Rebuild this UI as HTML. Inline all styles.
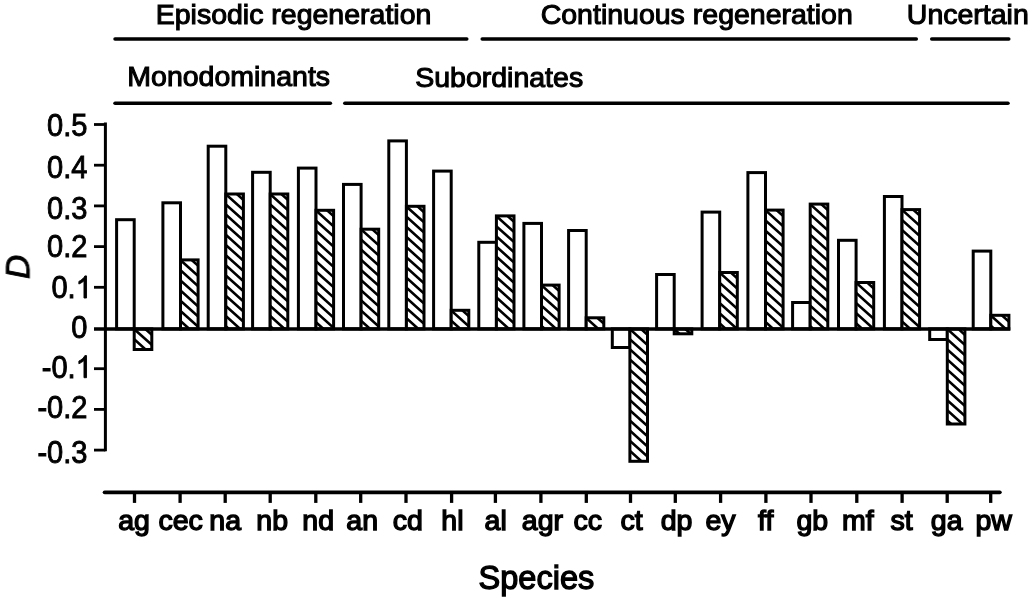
<!DOCTYPE html>
<html><head><meta charset="utf-8"><title>Chart</title>
<style>
html,body{margin:0;padding:0;background:#fff;}
svg{display:block}
.t{font-family:"Liberation Sans",sans-serif;font-size:28.5px;fill:#000;stroke:#000;stroke-width:1.1;}
</style></head><body>
<svg width="1033" height="602" viewBox="0 0 1033 602">
<rect width="1033" height="602" fill="#fff"/>
<g id="all" filter="url(#bl)">
<defs><filter id="bl" x="0" y="0" width="1033" height="602" filterUnits="userSpaceOnUse"><feGaussianBlur stdDeviation="0.5"/></filter><clipPath id="c0"><rect x="134.20" y="328.90" width="17.60" height="20.60"/></clipPath><clipPath id="c1"><rect x="180.50" y="259.90" width="17.60" height="69.00"/></clipPath><clipPath id="c2"><rect x="225.80" y="194.00" width="17.60" height="134.90"/></clipPath><clipPath id="c3"><rect x="270.20" y="194.00" width="17.60" height="134.90"/></clipPath><clipPath id="c4"><rect x="316.00" y="210.30" width="17.60" height="118.60"/></clipPath><clipPath id="c5"><rect x="361.10" y="229.20" width="17.60" height="99.70"/></clipPath><clipPath id="c6"><rect x="406.40" y="206.30" width="17.60" height="122.60"/></clipPath><clipPath id="c7"><rect x="451.20" y="310.30" width="17.60" height="18.60"/></clipPath><clipPath id="c8"><rect x="496.40" y="215.90" width="17.60" height="113.00"/></clipPath><clipPath id="c9"><rect x="541.50" y="285.10" width="17.60" height="43.80"/></clipPath><clipPath id="c10"><rect x="586.20" y="317.80" width="17.60" height="11.10"/></clipPath><clipPath id="c11"><rect x="629.90" y="328.90" width="17.60" height="132.40"/></clipPath><clipPath id="c12"><rect x="674.20" y="328.90" width="17.60" height="4.90"/></clipPath><clipPath id="c13"><rect x="719.70" y="272.50" width="17.60" height="56.40"/></clipPath><clipPath id="c14"><rect x="765.50" y="210.10" width="17.60" height="118.80"/></clipPath><clipPath id="c15"><rect x="810.20" y="204.10" width="17.60" height="124.80"/></clipPath><clipPath id="c16"><rect x="856.10" y="282.50" width="17.60" height="46.40"/></clipPath><clipPath id="c17"><rect x="902.00" y="209.60" width="17.60" height="119.30"/></clipPath><clipPath id="c18"><rect x="947.30" y="328.90" width="17.60" height="95.10"/></clipPath><clipPath id="c19"><rect x="990.80" y="315.30" width="18.10" height="13.60"/></clipPath></defs>
<rect x="116.60" y="219.70" width="17.60" height="109.20" fill="#fff" stroke="#000" stroke-width="3.0"/>
<rect x="134.20" y="328.90" width="17.60" height="20.60" fill="#fff"/>
<path d="M132.20 296.85L153.80 316.29M132.20 307.00L153.80 326.44M132.20 317.15L153.80 336.59M132.20 327.30L153.80 346.74M132.20 337.45L153.80 356.89M132.20 347.60L153.80 367.04" stroke="#000" stroke-width="2.6" fill="none" clip-path="url(#c0)"/>
<rect x="134.20" y="328.90" width="17.60" height="20.60" fill="none" stroke="#000" stroke-width="3.0"/>
<rect x="162.90" y="202.80" width="17.60" height="126.10" fill="#fff" stroke="#000" stroke-width="3.0"/>
<rect x="180.50" y="259.90" width="17.60" height="69.00" fill="#fff"/>
<path d="M178.50 227.85L200.10 247.29M178.50 238.00L200.10 257.44M178.50 248.15L200.10 267.59M178.50 258.30L200.10 277.74M178.50 268.45L200.10 287.89M178.50 278.60L200.10 298.04M178.50 288.75L200.10 308.19M178.50 298.90L200.10 318.34M178.50 309.05L200.10 328.49M178.50 319.20L200.10 338.64" stroke="#000" stroke-width="2.6" fill="none" clip-path="url(#c1)"/>
<rect x="180.50" y="259.90" width="17.60" height="69.00" fill="none" stroke="#000" stroke-width="3.0"/>
<rect x="208.20" y="146.20" width="17.60" height="182.70" fill="#fff" stroke="#000" stroke-width="3.0"/>
<rect x="225.80" y="194.00" width="17.60" height="134.90" fill="#fff"/>
<path d="M223.80 161.95L245.40 181.39M223.80 172.10L245.40 191.54M223.80 182.25L245.40 201.69M223.80 192.40L245.40 211.84M223.80 202.55L245.40 221.99M223.80 212.70L245.40 232.14M223.80 222.85L245.40 242.29M223.80 233.00L245.40 252.44M223.80 243.15L245.40 262.59M223.80 253.30L245.40 272.74M223.80 263.45L245.40 282.89M223.80 273.60L245.40 293.04M223.80 283.75L245.40 303.19M223.80 293.90L245.40 313.34M223.80 304.05L245.40 323.49M223.80 314.20L245.40 333.64M223.80 324.35L245.40 343.79" stroke="#000" stroke-width="2.6" fill="none" clip-path="url(#c2)"/>
<rect x="225.80" y="194.00" width="17.60" height="134.90" fill="none" stroke="#000" stroke-width="3.0"/>
<rect x="252.60" y="172.30" width="17.60" height="156.60" fill="#fff" stroke="#000" stroke-width="3.0"/>
<rect x="270.20" y="194.00" width="17.60" height="134.90" fill="#fff"/>
<path d="M268.20 161.95L289.80 181.39M268.20 172.10L289.80 191.54M268.20 182.25L289.80 201.69M268.20 192.40L289.80 211.84M268.20 202.55L289.80 221.99M268.20 212.70L289.80 232.14M268.20 222.85L289.80 242.29M268.20 233.00L289.80 252.44M268.20 243.15L289.80 262.59M268.20 253.30L289.80 272.74M268.20 263.45L289.80 282.89M268.20 273.60L289.80 293.04M268.20 283.75L289.80 303.19M268.20 293.90L289.80 313.34M268.20 304.05L289.80 323.49M268.20 314.20L289.80 333.64M268.20 324.35L289.80 343.79" stroke="#000" stroke-width="2.6" fill="none" clip-path="url(#c3)"/>
<rect x="270.20" y="194.00" width="17.60" height="134.90" fill="none" stroke="#000" stroke-width="3.0"/>
<rect x="298.40" y="168.10" width="17.60" height="160.80" fill="#fff" stroke="#000" stroke-width="3.0"/>
<rect x="316.00" y="210.30" width="17.60" height="118.60" fill="#fff"/>
<path d="M314.00 178.25L335.60 197.69M314.00 188.40L335.60 207.84M314.00 198.55L335.60 217.99M314.00 208.70L335.60 228.14M314.00 218.85L335.60 238.29M314.00 229.00L335.60 248.44M314.00 239.15L335.60 258.59M314.00 249.30L335.60 268.74M314.00 259.45L335.60 278.89M314.00 269.60L335.60 289.04M314.00 279.75L335.60 299.19M314.00 289.90L335.60 309.34M314.00 300.05L335.60 319.49M314.00 310.20L335.60 329.64M314.00 320.35L335.60 339.79" stroke="#000" stroke-width="2.6" fill="none" clip-path="url(#c4)"/>
<rect x="316.00" y="210.30" width="17.60" height="118.60" fill="none" stroke="#000" stroke-width="3.0"/>
<rect x="343.50" y="184.40" width="17.60" height="144.50" fill="#fff" stroke="#000" stroke-width="3.0"/>
<rect x="361.10" y="229.20" width="17.60" height="99.70" fill="#fff"/>
<path d="M359.10 197.15L380.70 216.59M359.10 207.30L380.70 226.74M359.10 217.45L380.70 236.89M359.10 227.60L380.70 247.04M359.10 237.75L380.70 257.19M359.10 247.90L380.70 267.34M359.10 258.05L380.70 277.49M359.10 268.20L380.70 287.64M359.10 278.35L380.70 297.79M359.10 288.50L380.70 307.94M359.10 298.65L380.70 318.09M359.10 308.80L380.70 328.24M359.10 318.95L380.70 338.39M359.10 329.10L380.70 348.54" stroke="#000" stroke-width="2.6" fill="none" clip-path="url(#c5)"/>
<rect x="361.10" y="229.20" width="17.60" height="99.70" fill="none" stroke="#000" stroke-width="3.0"/>
<rect x="388.80" y="140.90" width="17.60" height="188.00" fill="#fff" stroke="#000" stroke-width="3.0"/>
<rect x="406.40" y="206.30" width="17.60" height="122.60" fill="#fff"/>
<path d="M404.40 174.25L426.00 193.69M404.40 184.40L426.00 203.84M404.40 194.55L426.00 213.99M404.40 204.70L426.00 224.14M404.40 214.85L426.00 234.29M404.40 225.00L426.00 244.44M404.40 235.15L426.00 254.59M404.40 245.30L426.00 264.74M404.40 255.45L426.00 274.89M404.40 265.60L426.00 285.04M404.40 275.75L426.00 295.19M404.40 285.90L426.00 305.34M404.40 296.05L426.00 315.49M404.40 306.20L426.00 325.64M404.40 316.35L426.00 335.79M404.40 326.50L426.00 345.94" stroke="#000" stroke-width="2.6" fill="none" clip-path="url(#c6)"/>
<rect x="406.40" y="206.30" width="17.60" height="122.60" fill="none" stroke="#000" stroke-width="3.0"/>
<rect x="433.60" y="171.10" width="17.60" height="157.80" fill="#fff" stroke="#000" stroke-width="3.0"/>
<rect x="451.20" y="310.30" width="17.60" height="18.60" fill="#fff"/>
<path d="M449.20 278.25L470.80 297.69M449.20 288.40L470.80 307.84M449.20 298.55L470.80 317.99M449.20 308.70L470.80 328.14M449.20 318.85L470.80 338.29M449.20 329.00L470.80 348.44" stroke="#000" stroke-width="2.6" fill="none" clip-path="url(#c7)"/>
<rect x="451.20" y="310.30" width="17.60" height="18.60" fill="none" stroke="#000" stroke-width="3.0"/>
<rect x="478.80" y="242.30" width="17.60" height="86.60" fill="#fff" stroke="#000" stroke-width="3.0"/>
<rect x="496.40" y="215.90" width="17.60" height="113.00" fill="#fff"/>
<path d="M494.40 183.85L516.00 203.29M494.40 194.00L516.00 213.44M494.40 204.15L516.00 223.59M494.40 214.30L516.00 233.74M494.40 224.45L516.00 243.89M494.40 234.60L516.00 254.04M494.40 244.75L516.00 264.19M494.40 254.90L516.00 274.34M494.40 265.05L516.00 284.49M494.40 275.20L516.00 294.64M494.40 285.35L516.00 304.79M494.40 295.50L516.00 314.94M494.40 305.65L516.00 325.09M494.40 315.80L516.00 335.24M494.40 325.95L516.00 345.39" stroke="#000" stroke-width="2.6" fill="none" clip-path="url(#c8)"/>
<rect x="496.40" y="215.90" width="17.60" height="113.00" fill="none" stroke="#000" stroke-width="3.0"/>
<rect x="523.90" y="223.40" width="17.60" height="105.50" fill="#fff" stroke="#000" stroke-width="3.0"/>
<rect x="541.50" y="285.10" width="17.60" height="43.80" fill="#fff"/>
<path d="M539.50 253.05L561.10 272.49M539.50 263.20L561.10 282.64M539.50 273.35L561.10 292.79M539.50 283.50L561.10 302.94M539.50 293.65L561.10 313.09M539.50 303.80L561.10 323.24M539.50 313.95L561.10 333.39M539.50 324.10L561.10 343.54" stroke="#000" stroke-width="2.6" fill="none" clip-path="url(#c9)"/>
<rect x="541.50" y="285.10" width="17.60" height="43.80" fill="none" stroke="#000" stroke-width="3.0"/>
<rect x="568.60" y="230.50" width="17.60" height="98.40" fill="#fff" stroke="#000" stroke-width="3.0"/>
<rect x="586.20" y="317.80" width="17.60" height="11.10" fill="#fff"/>
<path d="M584.20 285.75L605.80 305.19M584.20 295.90L605.80 315.34M584.20 306.05L605.80 325.49M584.20 316.20L605.80 335.64M584.20 326.35L605.80 345.79" stroke="#000" stroke-width="2.6" fill="none" clip-path="url(#c10)"/>
<rect x="586.20" y="317.80" width="17.60" height="11.10" fill="none" stroke="#000" stroke-width="3.0"/>
<rect x="612.30" y="328.90" width="17.60" height="18.60" fill="#fff" stroke="#000" stroke-width="3.0"/>
<rect x="629.90" y="328.90" width="17.60" height="132.40" fill="#fff"/>
<path d="M627.90 296.85L649.50 316.29M627.90 307.00L649.50 326.44M627.90 317.15L649.50 336.59M627.90 327.30L649.50 346.74M627.90 337.45L649.50 356.89M627.90 347.60L649.50 367.04M627.90 357.75L649.50 377.19M627.90 367.90L649.50 387.34M627.90 378.05L649.50 397.49M627.90 388.20L649.50 407.64M627.90 398.35L649.50 417.79M627.90 408.50L649.50 427.94M627.90 418.65L649.50 438.09M627.90 428.80L649.50 448.24M627.90 438.95L649.50 458.39M627.90 449.10L649.50 468.54M627.90 459.25L649.50 478.69" stroke="#000" stroke-width="2.6" fill="none" clip-path="url(#c11)"/>
<rect x="629.90" y="328.90" width="17.60" height="132.40" fill="none" stroke="#000" stroke-width="3.0"/>
<rect x="656.60" y="274.50" width="17.60" height="54.40" fill="#fff" stroke="#000" stroke-width="3.0"/>
<rect x="674.20" y="328.90" width="17.60" height="4.90" fill="#fff"/>
<path d="M672.20 296.85L693.80 316.29M672.20 307.00L693.80 326.44M672.20 317.15L693.80 336.59M672.20 327.30L693.80 346.74" stroke="#000" stroke-width="2.6" fill="none" clip-path="url(#c12)"/>
<rect x="674.20" y="328.90" width="17.60" height="4.90" fill="none" stroke="#000" stroke-width="3.0"/>
<rect x="702.10" y="212.10" width="17.60" height="116.80" fill="#fff" stroke="#000" stroke-width="3.0"/>
<rect x="719.70" y="272.50" width="17.60" height="56.40" fill="#fff"/>
<path d="M717.70 240.45L739.30 259.89M717.70 250.60L739.30 270.04M717.70 260.75L739.30 280.19M717.70 270.90L739.30 290.34M717.70 281.05L739.30 300.49M717.70 291.20L739.30 310.64M717.70 301.35L739.30 320.79M717.70 311.50L739.30 330.94M717.70 321.65L739.30 341.09" stroke="#000" stroke-width="2.6" fill="none" clip-path="url(#c13)"/>
<rect x="719.70" y="272.50" width="17.60" height="56.40" fill="none" stroke="#000" stroke-width="3.0"/>
<rect x="747.90" y="172.60" width="17.60" height="156.30" fill="#fff" stroke="#000" stroke-width="3.0"/>
<rect x="765.50" y="210.10" width="17.60" height="118.80" fill="#fff"/>
<path d="M763.50 178.05L785.10 197.49M763.50 188.20L785.10 207.64M763.50 198.35L785.10 217.79M763.50 208.50L785.10 227.94M763.50 218.65L785.10 238.09M763.50 228.80L785.10 248.24M763.50 238.95L785.10 258.39M763.50 249.10L785.10 268.54M763.50 259.25L785.10 278.69M763.50 269.40L785.10 288.84M763.50 279.55L785.10 298.99M763.50 289.70L785.10 309.14M763.50 299.85L785.10 319.29M763.50 310.00L785.10 329.44M763.50 320.15L785.10 339.59" stroke="#000" stroke-width="2.6" fill="none" clip-path="url(#c14)"/>
<rect x="765.50" y="210.10" width="17.60" height="118.80" fill="none" stroke="#000" stroke-width="3.0"/>
<rect x="792.60" y="302.50" width="17.60" height="26.40" fill="#fff" stroke="#000" stroke-width="3.0"/>
<rect x="810.20" y="204.10" width="17.60" height="124.80" fill="#fff"/>
<path d="M808.20 172.05L829.80 191.49M808.20 182.20L829.80 201.64M808.20 192.35L829.80 211.79M808.20 202.50L829.80 221.94M808.20 212.65L829.80 232.09M808.20 222.80L829.80 242.24M808.20 232.95L829.80 252.39M808.20 243.10L829.80 262.54M808.20 253.25L829.80 272.69M808.20 263.40L829.80 282.84M808.20 273.55L829.80 292.99M808.20 283.70L829.80 303.14M808.20 293.85L829.80 313.29M808.20 304.00L829.80 323.44M808.20 314.15L829.80 333.59M808.20 324.30L829.80 343.74" stroke="#000" stroke-width="2.6" fill="none" clip-path="url(#c15)"/>
<rect x="810.20" y="204.10" width="17.60" height="124.80" fill="none" stroke="#000" stroke-width="3.0"/>
<rect x="838.50" y="240.30" width="17.60" height="88.60" fill="#fff" stroke="#000" stroke-width="3.0"/>
<rect x="856.10" y="282.50" width="17.60" height="46.40" fill="#fff"/>
<path d="M854.10 250.45L875.70 269.89M854.10 260.60L875.70 280.04M854.10 270.75L875.70 290.19M854.10 280.90L875.70 300.34M854.10 291.05L875.70 310.49M854.10 301.20L875.70 320.64M854.10 311.35L875.70 330.79M854.10 321.50L875.70 340.94" stroke="#000" stroke-width="2.6" fill="none" clip-path="url(#c16)"/>
<rect x="856.10" y="282.50" width="17.60" height="46.40" fill="none" stroke="#000" stroke-width="3.0"/>
<rect x="884.40" y="196.50" width="17.60" height="132.40" fill="#fff" stroke="#000" stroke-width="3.0"/>
<rect x="902.00" y="209.60" width="17.60" height="119.30" fill="#fff"/>
<path d="M900.00 177.55L921.60 196.99M900.00 187.70L921.60 207.14M900.00 197.85L921.60 217.29M900.00 208.00L921.60 227.44M900.00 218.15L921.60 237.59M900.00 228.30L921.60 247.74M900.00 238.45L921.60 257.89M900.00 248.60L921.60 268.04M900.00 258.75L921.60 278.19M900.00 268.90L921.60 288.34M900.00 279.05L921.60 298.49M900.00 289.20L921.60 308.64M900.00 299.35L921.60 318.79M900.00 309.50L921.60 328.94M900.00 319.65L921.60 339.09" stroke="#000" stroke-width="2.6" fill="none" clip-path="url(#c17)"/>
<rect x="902.00" y="209.60" width="17.60" height="119.30" fill="none" stroke="#000" stroke-width="3.0"/>
<rect x="929.70" y="328.90" width="17.60" height="10.60" fill="#fff" stroke="#000" stroke-width="3.0"/>
<rect x="947.30" y="328.90" width="17.60" height="95.10" fill="#fff"/>
<path d="M945.30 296.85L966.90 316.29M945.30 307.00L966.90 326.44M945.30 317.15L966.90 336.59M945.30 327.30L966.90 346.74M945.30 337.45L966.90 356.89M945.30 347.60L966.90 367.04M945.30 357.75L966.90 377.19M945.30 367.90L966.90 387.34M945.30 378.05L966.90 397.49M945.30 388.20L966.90 407.64M945.30 398.35L966.90 417.79M945.30 408.50L966.90 427.94M945.30 418.65L966.90 438.09" stroke="#000" stroke-width="2.6" fill="none" clip-path="url(#c18)"/>
<rect x="947.30" y="328.90" width="17.60" height="95.10" fill="none" stroke="#000" stroke-width="3.0"/>
<rect x="973.20" y="251.10" width="17.60" height="77.80" fill="#fff" stroke="#000" stroke-width="3.0"/>
<rect x="990.80" y="315.30" width="18.10" height="13.60" fill="#fff"/>
<path d="M988.80 283.25L1010.90 303.14M988.80 293.40L1010.90 313.29M988.80 303.55L1010.90 323.44M988.80 313.70L1010.90 333.59M988.80 323.85L1010.90 343.74" stroke="#000" stroke-width="2.6" fill="none" clip-path="url(#c19)"/>
<rect x="990.80" y="315.30" width="18.10" height="13.60" fill="none" stroke="#000" stroke-width="3.0"/>
<line x1="94" y1="328.9" x2="1010.3" y2="328.9" stroke="#000" stroke-width="3.5"/>
<line x1="105.4" y1="122.5" x2="105.4" y2="451.2" stroke="#000" stroke-width="3"/>
<line x1="94" y1="450.10" x2="105.4" y2="450.10" stroke="#000" stroke-width="2.8"/>
<text transform="translate(87.5,452.10) scale(1.02,1.08)" x="0" y="10.2" text-anchor="end" class="t" style="stroke-width:0.85px">-0.3</text>
<line x1="94" y1="409.40" x2="105.4" y2="409.40" stroke="#000" stroke-width="2.8"/>
<text transform="translate(87.5,407.10) scale(1.02,1.08)" x="0" y="10.2" text-anchor="end" class="t" style="stroke-width:0.85px">-0.2</text>
<line x1="94" y1="368.70" x2="105.4" y2="368.70" stroke="#000" stroke-width="2.8"/>
<g transform="translate(75.7,366.70) scale(1.02,1.08)"><text x="0" y="10.2" text-anchor="end" class="t" style="stroke-width:0.85px">-0.</text><path transform="translate(0,10.2) scale(0.013916,-0.013916)" d="M763 0H583V1147Q518 1085 412.5 1023T223 930V1104Q374 1175 487 1276T647 1472H763Z" fill="#000" stroke="#000" stroke-width="61" stroke-linejoin="round"/></g>
<text transform="translate(87.5,327.10) scale(1.02,1.08)" x="0" y="10.2" text-anchor="end" class="t" style="stroke-width:0.85px">0</text>
<line x1="94" y1="287.30" x2="105.4" y2="287.30" stroke="#000" stroke-width="2.8"/>
<g transform="translate(75.7,287.00) scale(1.02,1.08)"><text x="0" y="10.2" text-anchor="end" class="t" style="stroke-width:0.85px">0.</text><path transform="translate(0,10.2) scale(0.013916,-0.013916)" d="M763 0H583V1147Q518 1085 412.5 1023T223 930V1104Q374 1175 487 1276T647 1472H763Z" fill="#000" stroke="#000" stroke-width="61" stroke-linejoin="round"/></g>
<line x1="94" y1="246.60" x2="105.4" y2="246.60" stroke="#000" stroke-width="2.8"/>
<text transform="translate(87.5,246.40) scale(1.02,1.08)" x="0" y="10.2" text-anchor="end" class="t" style="stroke-width:0.85px">0.2</text>
<line x1="94" y1="205.90" x2="105.4" y2="205.90" stroke="#000" stroke-width="2.8"/>
<text transform="translate(87.5,207.60) scale(1.02,1.08)" x="0" y="10.2" text-anchor="end" class="t" style="stroke-width:0.85px">0.3</text>
<line x1="94" y1="165.20" x2="105.4" y2="165.20" stroke="#000" stroke-width="2.8"/>
<text transform="translate(87.5,166.90) scale(1.02,1.08)" x="0" y="10.2" text-anchor="end" class="t" style="stroke-width:0.85px">0.4</text>
<line x1="94" y1="124.50" x2="105.4" y2="124.50" stroke="#000" stroke-width="2.8"/>
<text transform="translate(87.5,124.90) scale(1.02,1.08)" x="0" y="10.2" text-anchor="end" class="t" style="stroke-width:0.85px">0.5</text>
<line x1="104.6" y1="492.3" x2="999.8" y2="492.3" stroke="#000" stroke-width="3.8" stroke-linecap="round"/>
<line x1="134.50" y1="492" x2="134.50" y2="502.9" stroke="#000" stroke-width="3.3"/>
<text x="134.10" y="530" text-anchor="middle" class="t" style="stroke-width:1.4px">ag</text>
<line x1="180.10" y1="492" x2="180.10" y2="502.9" stroke="#000" stroke-width="3.3"/>
<text x="180.70" y="530" text-anchor="middle" class="t" style="stroke-width:1.4px">cec</text>
<line x1="225.20" y1="492" x2="225.20" y2="502.9" stroke="#000" stroke-width="3.3"/>
<text x="225.20" y="530" text-anchor="middle" class="t" style="stroke-width:1.4px">na</text>
<line x1="270.20" y1="492" x2="270.20" y2="502.9" stroke="#000" stroke-width="3.3"/>
<text x="272.20" y="530" text-anchor="middle" class="t" style="stroke-width:1.4px">nb</text>
<line x1="315.80" y1="492" x2="315.80" y2="502.9" stroke="#000" stroke-width="3.3"/>
<text x="318.20" y="530" text-anchor="middle" class="t" style="stroke-width:1.4px">nd</text>
<line x1="360.70" y1="492" x2="360.70" y2="502.9" stroke="#000" stroke-width="3.3"/>
<text x="362.20" y="530" text-anchor="middle" class="t" style="stroke-width:1.4px">an</text>
<line x1="406.00" y1="492" x2="406.00" y2="502.9" stroke="#000" stroke-width="3.3"/>
<text x="407.70" y="530" text-anchor="middle" class="t" style="stroke-width:1.4px">cd</text>
<line x1="451.60" y1="492" x2="451.60" y2="502.9" stroke="#000" stroke-width="3.3"/>
<text x="452.40" y="530" text-anchor="middle" class="t" style="stroke-width:1.4px">hl</text>
<line x1="495.40" y1="492" x2="495.40" y2="502.9" stroke="#000" stroke-width="3.3"/>
<text x="495.70" y="530" text-anchor="middle" class="t" style="stroke-width:1.4px">al</text>
<line x1="540.90" y1="492" x2="540.90" y2="502.9" stroke="#000" stroke-width="3.3"/>
<text x="542.40" y="530" text-anchor="middle" class="t" style="stroke-width:1.4px">agr</text>
<line x1="586.30" y1="492" x2="586.30" y2="502.9" stroke="#000" stroke-width="3.3"/>
<text x="587.70" y="530" text-anchor="middle" class="t" style="stroke-width:1.4px">cc</text>
<line x1="630.50" y1="492" x2="630.50" y2="502.9" stroke="#000" stroke-width="3.3"/>
<text x="631.60" y="530" text-anchor="middle" class="t" style="stroke-width:1.4px">ct</text>
<line x1="675.30" y1="492" x2="675.30" y2="502.9" stroke="#000" stroke-width="3.3"/>
<text x="676.50" y="530" text-anchor="middle" class="t" style="stroke-width:1.4px">dp</text>
<line x1="720.60" y1="492" x2="720.60" y2="502.9" stroke="#000" stroke-width="3.3"/>
<text x="720.50" y="530" text-anchor="middle" class="t" style="stroke-width:1.4px">ey</text>
<line x1="765.90" y1="492" x2="765.90" y2="502.9" stroke="#000" stroke-width="3.3"/>
<text x="765.70" y="530" text-anchor="middle" class="t" style="stroke-width:1.4px">ff</text>
<line x1="811.00" y1="492" x2="811.00" y2="502.9" stroke="#000" stroke-width="3.3"/>
<text x="812.30" y="530" text-anchor="middle" class="t" style="stroke-width:1.4px">gb</text>
<line x1="856.80" y1="492" x2="856.80" y2="502.9" stroke="#000" stroke-width="3.3"/>
<text x="857.90" y="530" text-anchor="middle" class="t" style="stroke-width:1.4px">mf</text>
<line x1="902.10" y1="492" x2="902.10" y2="502.9" stroke="#000" stroke-width="3.3"/>
<text x="901.70" y="530" text-anchor="middle" class="t" style="stroke-width:1.4px">st</text>
<line x1="947.20" y1="492" x2="947.20" y2="502.9" stroke="#000" stroke-width="3.3"/>
<text x="946.70" y="530" text-anchor="middle" class="t" style="stroke-width:1.4px">ga</text>
<line x1="990.70" y1="492" x2="990.70" y2="502.9" stroke="#000" stroke-width="3.3"/>
<text x="993.70" y="530" text-anchor="middle" class="t" style="stroke-width:1.4px">pw</text>
<line x1="115.0" y1="38.9" x2="466.8" y2="38.9" stroke="#000" stroke-width="3.5" stroke-linecap="round"/>
<line x1="482.2" y1="38.9" x2="916.3" y2="38.9" stroke="#000" stroke-width="3.5" stroke-linecap="round"/>
<line x1="931.7" y1="38.9" x2="1008.8" y2="38.9" stroke="#000" stroke-width="3.5" stroke-linecap="round"/>
<line x1="115.0" y1="103.2" x2="330.40000000000003" y2="103.2" stroke="#000" stroke-width="3.5" stroke-linecap="round"/>
<line x1="344.8" y1="103.2" x2="1008.0" y2="103.2" stroke="#000" stroke-width="3.5" stroke-linecap="round"/>
<text x="155.7" y="23.7" class="t">Episodic regeneration</text>
<text x="540.7" y="23.6" class="t">Continuous regeneration</text>
<text x="906.8" y="23.6" class="t">Uncertain</text>
<text x="127.3" y="86.3" class="t">Monodominants</text>
<text x="415.2" y="86.5" class="t">Subordinates</text>
<text x="478.6" y="588.6" class="t" style="font-size:32.5px;stroke-width:1.3px">Species</text>
<text transform="translate(29.3,267) rotate(-90)" text-anchor="middle" class="t" style="font-size:33.5px;font-style:italic;stroke-width:0.9px">D</text>
</g></svg>
</body></html>
